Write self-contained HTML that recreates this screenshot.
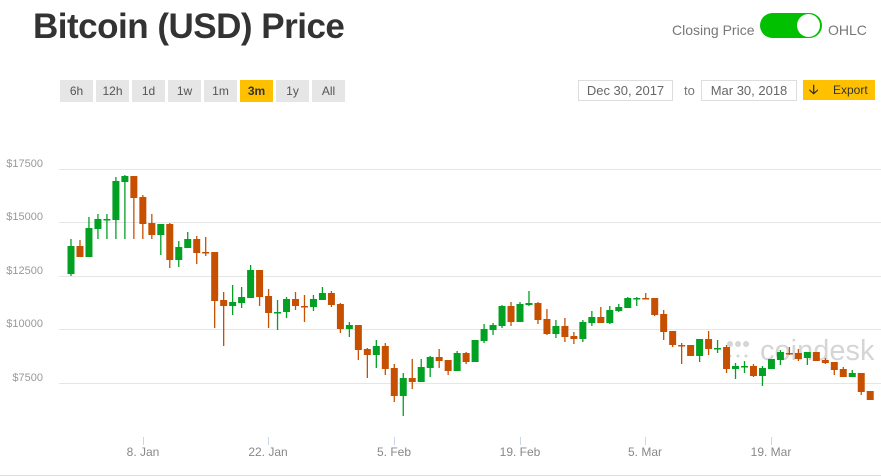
<!DOCTYPE html>
<html><head><meta charset="utf-8"><style>
*{margin:0;padding:0;box-sizing:border-box}
body{width:881px;height:476px;background:#fff;font-family:"Liberation Sans",sans-serif;position:relative;overflow:hidden}
.t{position:absolute;left:33px;top:7px;font-size:35px;font-weight:bold;color:#333;letter-spacing:-0.5px}
.b{position:absolute;top:80px;width:33px;height:22px;background:#e6e6e6;color:#555;font-size:12px;text-align:center;line-height:22px}
.abs{position:absolute}
.box{position:absolute;top:80px;height:21px;border:1px solid #ddd;color:#666;font-size:13px;text-align:center;line-height:19px}
</style></head><body>
<div class="t">Bitcoin (USD) Price</div>
<div class="abs" style="left:672px;top:22px;font-size:14px;color:#777">Closing Price</div>
<div class="abs" style="left:760px;top:13px;width:62px;height:25px;border-radius:13px;background:#00c000"></div>
<div class="abs" style="left:797px;top:14px;width:23px;height:23px;border-radius:12px;background:#fff"></div>
<div class="abs" style="left:828px;top:22px;font-size:14px;color:#777">OHLC</div>
<div class="b" style="left:60px">6h</div><div class="b" style="left:96px">12h</div><div class="b" style="left:132px">1d</div><div class="b" style="left:168px">1w</div><div class="b" style="left:204px">1m</div><div class="b" style="left:240px;background:#ffc000;font-weight:bold;color:#333">3m</div><div class="b" style="left:276px">1y</div><div class="b" style="left:312px">All</div>
<div class="box" style="left:578px;width:95px">Dec 30, 2017</div>
<div class="abs" style="left:684px;top:83px;font-size:13px;color:#777">to</div>
<div class="box" style="left:701px;width:96px">Mar 30, 2018</div>
<div class="abs" style="left:803px;top:80px;width:72px;height:20px;background:#ffc000;font-size:12px;line-height:20px;color:#333"><span style="position:absolute;left:6px;font-weight:bold;font-size:13px">&#129123;</span><span style="position:absolute;left:30px">Export</span></div>
<svg class="abs" style="left:0;top:0" width="881" height="476">
<g stroke="#e6e6e6" stroke-width="1">
<line x1="59" x2="881" y1="169.5" y2="169.5"/><line x1="59" x2="881" y1="222.5" y2="222.5"/><line x1="59" x2="881" y1="276.5" y2="276.5"/><line x1="59" x2="881" y1="329.5" y2="329.5"/><line x1="59" x2="881" y1="383.5" y2="383.5"/>
<line x1="0" x2="881" y1="475.5" y2="475.5" stroke="#ddd"/>
</g>
<g font-family="Liberation Sans" font-size="11" fill="#999" text-anchor="end">
<text x="43" y="167">$17500</text><text x="43" y="220">$15000</text><text x="43" y="274">$12500</text><text x="43" y="327">$10000</text><text x="43" y="381">$7500</text>
</g>
<g stroke="#ccd6eb"><line x1="143.5" x2="143.5" y1="437" y2="445"/><line x1="268.5" x2="268.5" y1="437" y2="445"/><line x1="394.5" x2="394.5" y1="437" y2="445"/><line x1="520.5" x2="520.5" y1="437" y2="445"/><line x1="645.5" x2="645.5" y1="437" y2="445"/><line x1="771.5" x2="771.5" y1="437" y2="445"/></g>
<g font-family="Liberation Sans" font-size="12" fill="#888" text-anchor="middle">
<text x="143" y="456">8. Jan</text><text x="268" y="456">22. Jan</text><text x="394" y="456">5. Feb</text><text x="520" y="456">19. Feb</text><text x="645" y="456">5. Mar</text><text x="771" y="456">19. Mar</text>
</g>
<g fill="#c4c4c4" opacity="0.7"><circle cx="730" cy="344" r="3"/><circle cx="738" cy="344" r="3"/><circle cx="746" cy="344" r="3"/><circle cx="730" cy="356" r="1.5"/><circle cx="738" cy="356" r="1.5"/><circle cx="746" cy="356" r="1.5"/>
<text x="760" y="360" font-family="Liberation Sans" font-size="29">coindesk</text></g>
<g id="c"></g>
</svg>
<script>
var d=[
"g,246,274,239,276","o,246,257,240,257","g,228,257,217,257","g,219,229,214,239","g,219,220,214,239","g,181,220,177,239","g,176,182,175,239","o,176,198,176,239","o,197,224,195,239","o,223,235,214,239",
"g,224,235,224,255","o,224,260,223,268","g,247,260,241,267","g,239,248,232,248","o,239,253,236,264","o,252,253,237,256","o,252,301,252,328","o,300,306,292,346","g,302,306,285,315","g,297,303,287,308",
"g,270,298,265,298","o,270,297,270,306","o,296,313,289,328","g,312,313,300,330","g,299,312,297,318","o,299,306,292,310","o,306,307,295,322","g,299,307,295,311","g,293,300,287,300","o,293,305,291,307",
"o,304,329,303,333","g,325,329,322,337","o,325,350,325,360","o,349,355,348,378","g,346,355,340,368","o,346,369,343,375","o,368,396,364,402","g,378,396,373,416","o,378,382,359,389","g,367,382,359,382",
"g,357,368,356,377","o,357,361,349,368","o,360,371,360,375","g,353,371,351,371","o,353,362,352,364","g,340,362,340,362","g,329,341,324,343","g,325,330,323,335","g,306,326,305,328","o,306,322,302,326",
"g,304,322,302,322","g,303,305,291,306","o,303,320,302,324","o,319,334,309,335","g,326,334,320,338","o,326,337,318,342","o,336,339,332,344","g,322,339,320,342","g,317,323,311,326","o,317,323,307,323",
"g,310,323,306,324","g,307,311,304,312","g,298,308,297,308","g,298,299,297,306","o,298,299,293,299","o,298,315,298,316","o,314,332,310,340","o,331,345,331,347","o,345,346,343,364","o,345,356,345,356",
"g,339,356,339,362","o,339,349,331,355","g,348,349,340,353","o,347,369,345,373","g,366,369,363,379","g,366,367,361,373","o,366,376,364,377","g,368,376,366,386","g,359,369,359,369","g,352,360,350,365",
"o,353,354,347,355","o,353,359,349,361","g,352,358,352,365","o,352,361,352,361","o,360,363,358,364","o,362,370,362,375","o,369,377,367,377","g,373,377,370,377","o,373,392,373,395","o,391,400,391,400"];
var s="";
d.forEach(function(r,i){var a=r.split(","),c=a[0]=="g"?"#02a023":"#c75000",x=71+i*8.98,t=+a[1],b=+a[2],h=+a[3],l=+a[4];if(b-t<1.5)b=t+1.5;
s+='<line x1="'+x+'" x2="'+x+'" y1="'+h+'" y2="'+l+'" stroke="'+c+'" stroke-width="1.3"/><rect x="'+(x-3.5)+'" y="'+t+'" width="7" height="'+(b-t)+'" fill="'+c+'"/>';});
document.getElementById("c").innerHTML=s;
</script>
</body></html>
